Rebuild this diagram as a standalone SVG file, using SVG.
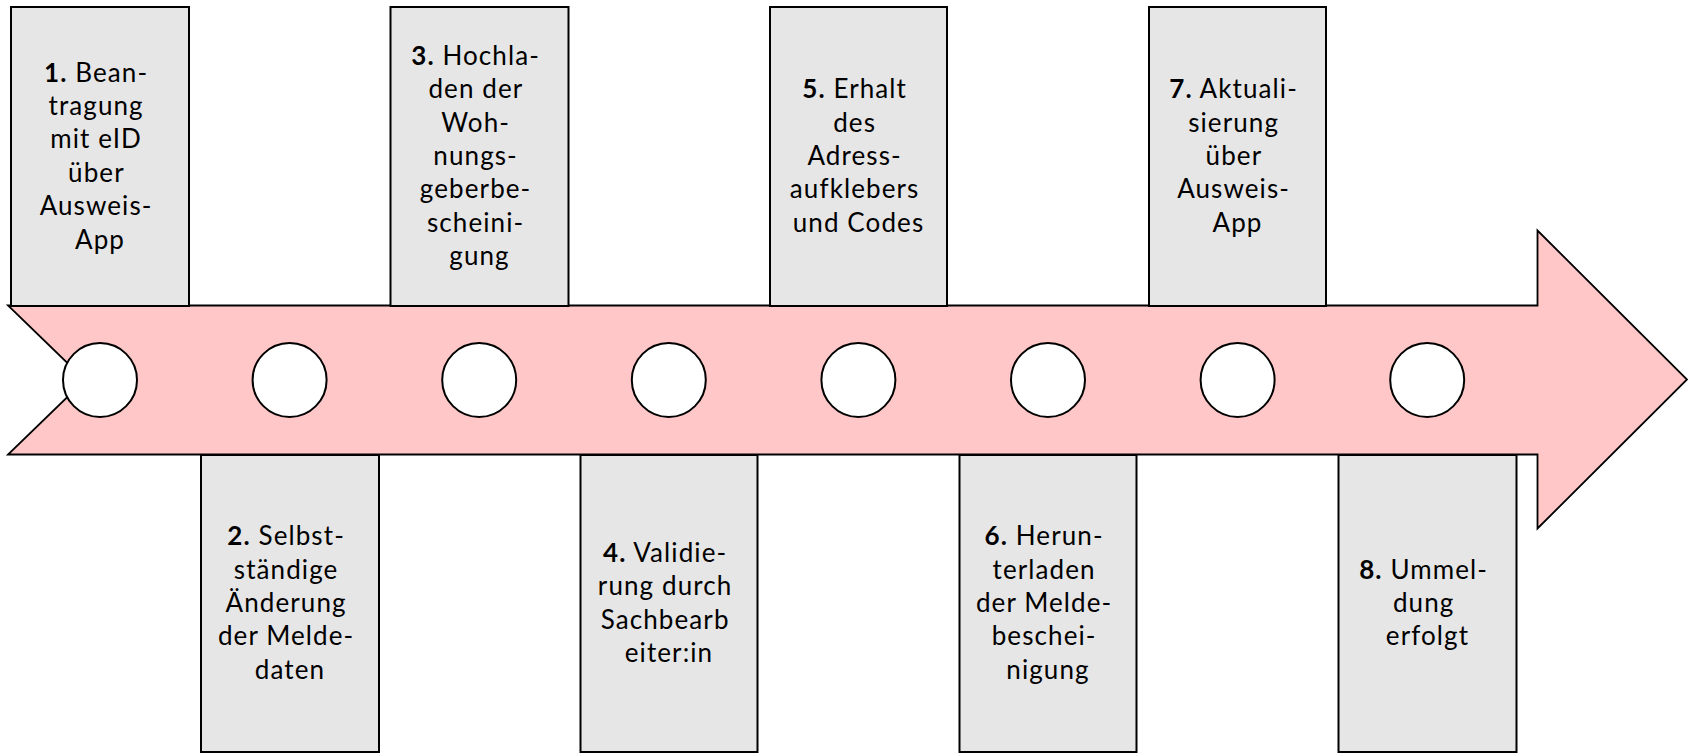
<svg xmlns="http://www.w3.org/2000/svg" width="1688" height="753" viewBox="0 0 1688 753">
  <style>
    .box { fill: #e7e6e6; stroke: #000; stroke-width: 2; }
    .dot { fill: #fff; stroke: #000; stroke-width: 2; }
    .lbl { font-family: Lato, "Liberation Sans", sans-serif; font-size: 26px; letter-spacing: 1.1px; fill: #000; text-anchor: middle; }
    .num { font-weight: bold; }
  </style>
  <rect width="1688" height="753" fill="#fff"/>

  <!-- timeline arrow -->
  <g id="connectors">
    <path id="timeline-arrow" d="M8,305.5 L1537.5,305.5 L1537.5,230.5 L1687,379.5 L1537.5,528.5 L1537.5,454.5 L8,454.5 L85,380 Z" fill="#ffc7c7" stroke="#000" stroke-width="1.8" stroke-linejoin="miter"/>
  </g>

  <!-- step 1 -->
  <g id="step1">
    <rect class="box" x="11" y="7" width="178" height="299"/>
    <text class="lbl">
      <tspan x="100" y="81.5"><tspan class="num">1.</tspan> Bean-</tspan>
      <tspan x="100" y="114.9">tragung</tspan>
      <tspan x="100" y="148.3">mit eID</tspan>
      <tspan x="100" y="181.7">über</tspan>
      <tspan x="100" y="215.1">Ausweis-</tspan>
      <tspan x="100" y="248.5">App</tspan>
    </text>
  </g>

  <!-- step 2 -->
  <g id="step2">
    <rect class="box" x="201" y="455" width="178" height="297"/>
    <text class="lbl">
      <tspan x="290" y="545.2"><tspan class="num">2.</tspan> Selbst-</tspan>
      <tspan x="290" y="578.6">ständige</tspan>
      <tspan x="290" y="612">Änderung</tspan>
      <tspan x="290" y="645.4">der Melde-</tspan>
      <tspan x="290" y="678.8">daten</tspan>
    </text>
  </g>

  <!-- step 3 -->
  <g id="step3">
    <rect class="box" x="390.5" y="7" width="178" height="299"/>
    <text class="lbl">
      <tspan x="479.5" y="64.8"><tspan class="num">3.</tspan> Hochla-</tspan>
      <tspan x="479.5" y="98.2">den der</tspan>
      <tspan x="479.5" y="131.6">Woh-</tspan>
      <tspan x="479.5" y="165">nungs-</tspan>
      <tspan x="479.5" y="198.4">geberbe-</tspan>
      <tspan x="479.5" y="231.8">scheini-</tspan>
      <tspan x="479.5" y="265.2">gung</tspan>
    </text>
  </g>

  <!-- step 4 -->
  <g id="step4">
    <rect class="box" x="580.5" y="455" width="177" height="297"/>
    <text class="lbl">
      <tspan x="669" y="561.9"><tspan class="num">4.</tspan> Validie-</tspan>
      <tspan x="669" y="595.3">rung durch</tspan>
      <tspan x="669" y="628.7">Sachbearb</tspan>
      <tspan x="669" y="662.1">eiter:in</tspan>
    </text>
  </g>

  <!-- step 5 -->
  <g id="step5">
    <rect class="box" x="770" y="7" width="177" height="299"/>
    <text class="lbl">
      <tspan x="858.5" y="98.2"><tspan class="num">5.</tspan> Erhalt</tspan>
      <tspan x="858.5" y="131.6">des</tspan>
      <tspan x="858.5" y="165">Adress-</tspan>
      <tspan x="858.5" y="198.4">aufklebers</tspan>
      <tspan x="858.5" y="231.8">und Codes</tspan>
    </text>
  </g>

  <!-- step 6 -->
  <g id="step6">
    <rect class="box" x="959.5" y="455" width="177" height="297"/>
    <text class="lbl">
      <tspan x="1048" y="545.2"><tspan class="num">6.</tspan> Herun-</tspan>
      <tspan x="1048" y="578.6">terladen</tspan>
      <tspan x="1048" y="612">der Melde-</tspan>
      <tspan x="1048" y="645.4">beschei-</tspan>
      <tspan x="1048" y="678.8">nigung</tspan>
    </text>
  </g>

  <!-- step 7 -->
  <g id="step7">
    <rect class="box" x="1149" y="7" width="177" height="299"/>
    <text class="lbl">
      <tspan x="1237.5" y="98.2"><tspan class="num">7.</tspan> Aktuali-</tspan>
      <tspan x="1237.5" y="131.6">sierung</tspan>
      <tspan x="1237.5" y="165">über</tspan>
      <tspan x="1237.5" y="198.4">Ausweis-</tspan>
      <tspan x="1237.5" y="231.8">App</tspan>
    </text>
  </g>

  <!-- step 8 -->
  <g id="step8">
    <rect class="box" x="1338.5" y="455" width="178" height="297"/>
    <text class="lbl">
      <tspan x="1427.5" y="578.6"><tspan class="num">8.</tspan> Ummel-</tspan>
      <tspan x="1427.5" y="612">dung</tspan>
      <tspan x="1427.5" y="645.4">erfolgt</tspan>
    </text>
  </g>

  <!-- milestone markers on the timeline -->
  <g id="markers">
    <circle class="dot" cx="100" cy="380" r="37"/>
    <circle class="dot" cx="289.6" cy="380" r="37"/>
    <circle class="dot" cx="479.2" cy="380" r="37"/>
    <circle class="dot" cx="668.8" cy="380" r="37"/>
    <circle class="dot" cx="858.4" cy="380" r="37"/>
    <circle class="dot" cx="1048" cy="380" r="37"/>
    <circle class="dot" cx="1237.6" cy="380" r="37"/>
    <circle class="dot" cx="1427.2" cy="380" r="37"/>
  </g>
</svg>
